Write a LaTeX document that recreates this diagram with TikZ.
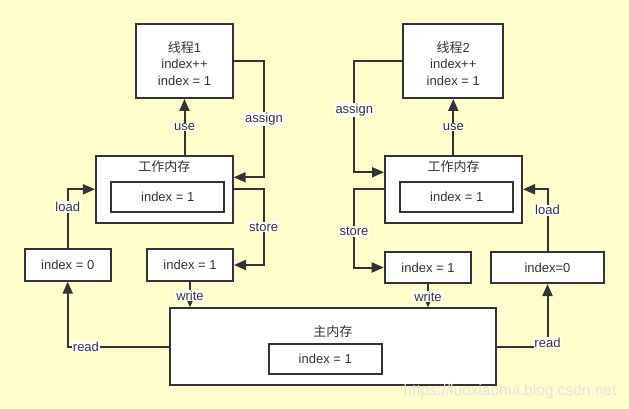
\documentclass[tikz,border=0pt]{standalone}
\usepackage{fontspec}
\setmainfont{Liberation Sans}
\newfontfamily\cjk{Noto Sans CJK SC}
\usetikzlibrary{arrows.meta}
\definecolor{bgy}{RGB}{255,253,204}
\definecolor{ink}{RGB}{51,51,51}
\definecolor{wm}{RGB}{228,228,222}
\tikzset{
  box/.style={draw=ink, line width=2pt, fill=white, inner sep=0pt, text=ink,
    font=\fontsize{13}{16.5}\selectfont, align=center},
  conn/.style={draw=ink, line width=2pt, -{Triangle[length=12pt,width=10pt]}},
  lab/.style={fill=white, inner sep=0.8pt, text=ink, font=\fontsize{13}{14}\selectfont},
  ttl/.style={text=ink, font=\fontsize{13}{14}\selectfont\cjk, inner sep=0pt}
}
\begin{document}
\begin{tikzpicture}[x=1pt,y=-1pt]
\fill[bgy] (0,0) rectangle (629,409);
\useasboundingbox (0,0) rectangle (629,409);

% thread boxes
\node[box, minimum width=97pt, minimum height=73.5pt] (t1) at (184.5,61.25) {};
\node[box, draw=none, fill=none] (t1t) at (184.5,63.5) {{\cjk 线程}1\\index++\\index = 1};
\node[box, minimum width=100pt, minimum height=73.5pt] (t2) at (453.3,61.25) {};
\node[box, draw=none, fill=none] (t2t) at (453.3,63.5) {{\cjk 线程}2\\index++\\index = 1};

% working memories
\node[box, minimum width=136.7pt, minimum height=66.7pt] (wmL) at (164.3,189.3) {};
\node[ttl] (wmLt) at (164.3,167) {工作内存};
\node[box, minimum width=113.3pt, minimum height=30pt] (wmLi) at (167.7,196.7) {index = 1};

\node[box, minimum width=137pt, minimum height=66.7pt] (wmR) at (453.5,189.3) {};
\node[ttl] (wmRt) at (453.5,167) {工作内存};
\node[box, minimum width=113.3pt, minimum height=30pt] (wmRi) at (456.7,196.7) {index = 1};

% copies
\node[box, minimum width=86pt, minimum height=31.4pt] (i0L) at (67.7,265) {index = 0};
\node[box, minimum width=86pt, minimum height=31.4pt] (i1L) at (190,265) {index = 1};
\node[box, minimum width=86.6pt, minimum height=31pt] (i1R) at (428,267.5) {index = 1};
\node[box, minimum width=113pt, minimum height=31pt] (i0R) at (547.5,267.5) {index=0};

% main memory
\node[box, minimum width=325.7pt, minimum height=76.7pt] (main) at (332.9,346.7) {};
\node[ttl] (maint) at (332.9,332) {主内存};
\node[box, minimum width=112.7pt, minimum height=29.7pt] (maini) at (325.3,358.9) {index = 1};

% left connectors
\draw[conn] (wmL.north -| t1.south) -- node[lab, pos=0.5] {use} (t1.south);
\draw[conn] (t1.east) -- ([xshift=30pt]t1.east) |- node[lab, pos=0.25] {assign} ([yshift=12pt]wmL.east);
\draw[conn] (i0L.north) |- node[lab, pos=0.35] {load} (wmL.west);
\draw[conn] (wmL.east) -- ([xshift=30pt]wmL.east) |- node[lab, pos=0.25] {store} (i1L.east);
\draw[conn] (i1L.south) -- node[lab, pos=0.55] {write} (main.north -| i1L.south);
\draw[conn] (main.west) -| node[lab, pos=0.41] {read} (i0L.south);

% right connectors
\draw[conn] (wmR.north -| t2.south) -- node[lab, pos=0.5] {use} (t2.south);
\draw[conn] (t2.west) -- ([xshift=-48pt]t2.west) |- node[lab, pos=0.22] {assign} ([yshift=17pt]wmR.west);
\draw[conn] (i0R.north) |- node[lab, pos=0.33] {load} (wmR.east);
\draw[conn] (wmR.west) -- ([xshift=-30pt]wmR.west) |- node[lab, pos=0.27] {store} (i1R.west);
\draw[conn] (i1R.south) -- node[lab, pos=0.55] {write} (main.north -| i1R.south);
\draw[conn] (main.east) -| node[lab, pos=0.5, yshift=4pt] {read} (i0R.south);

% watermark
\node[text=wm, font=\fontsize{15.5}{16}\selectfont, inner sep=0pt] (wmark) at (510,391) {https://luoxiaohui.blog.csdn.net};
\end{tikzpicture}
\end{document}
